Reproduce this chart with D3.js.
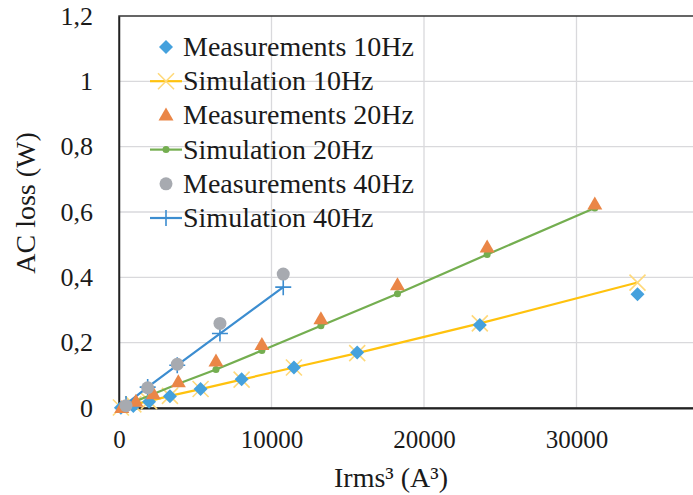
<!DOCTYPE html>
<html>
<head>
<meta charset="utf-8">
<script src="https://cdn.jsdelivr.net/npm/d3@7"></script>
<style>
  body { margin: 0; background: #fff; }
  svg text { font-family: "Liberation Serif", "DejaVu Serif", "Times New Roman", Times, serif; fill: #1a1a1a; }
</style>
</head>
<body>
<svg id="chart" width="693" height="495" font-family="Liberation Serif, DejaVu Serif, serif"></svg>
<script>
// values
var meas10X = [125, 940, 1970, 3340, 5350, 8040, 11470, 15620, 23660, 34000];
var meas10Y = [0.001, 0.006, 0.019, 0.036, 0.058, 0.088, 0.124, 0.170, 0.254, 0.348];
var sim10Y  = [0.0015, 0.011, 0.021, 0.037, 0.058, 0.087, 0.124, 0.168, 0.259, 0.384];

var meas20X = [180, 1110, 2250, 3890, 6360, 9370, 13240, 18260, 24140, 31200];
var meas20Y = [0.0, 0.019, 0.042, 0.079, 0.142, 0.193, 0.272, 0.376, 0.491, 0.623];
var sim20Y  = [0.003, 0.021, 0.043, 0.074, 0.118, 0.176, 0.252, 0.350, 0.470, 0.612];

var meas40X = [460, 1880, 3820, 6620, 10770];
var meas40Y = [0.007, 0.062, 0.134, 0.259, 0.410];
var sim40Y  = [0.012, 0.064, 0.131, 0.228, 0.370];

var xTicks = [0, 10000, 20000, 30000];
var xGrid = [10000, 20000, 30000, 40000];
var yTicks = [0, 0.2, 0.4, 0.6, 0.8, 1, 1.2];

var legendNames = ["Measurements 10Hz", "Simulation 10Hz", "Measurements 20Hz",
                   "Simulation 20Hz", "Measurements 40Hz", "Simulation 40Hz"];

var svg = d3.select("#chart"),
    margin = {top: 16, left: 119},
    width = 610,
    height = 392,
    g = svg.append("g").attr("transform", "translate(" + margin.left + "," + margin.top + ")");

var x = d3.scaleLinear().domain([0, 40000]).range([0, width]);
var y = d3.scaleLinear().domain([0, 1.2]).range([height, 0]);

function pts(xs, ys) {
  return xs.map(function(v, i) { return [v, ys[i]]; });
}

var series = [
  {name: legendNames[0], kind: "meas", shape: "diamond",  color: "#45a1dd", data: pts(meas10X, meas10Y)},
  {name: legendNames[1], kind: "sim",  shape: "cross",    color: "#ffc20e", mark: "#ffd97a", data: pts(meas10X, sim10Y)},
  {name: legendNames[2], kind: "meas", shape: "triangle", color: "#ea8647", data: pts(meas20X, meas20Y)},
  {name: legendNames[3], kind: "sim",  shape: "dot",      color: "#74ae50", mark: "#74ae50", data: pts(meas20X, sim20Y)},
  {name: legendNames[4], kind: "meas", shape: "circle",   color: "#a7aab0", data: pts(meas40X, meas40Y)},
  {name: legendNames[5], kind: "sim",  shape: "plus",     color: "#3c8dd0", mark: "#3c8dd0", data: pts(meas40X, sim40Y)}
];

// gridlines
g.append("g")
  .selectAll("line")
  .data(yTicks.filter(function(d) { return d > 0 && d < 1.2; }))
  .enter().append("line")
    .attr("x1", 0).attr("x2", width)
    .attr("y1", function(d) { return y(d); })
    .attr("y2", function(d) { return y(d); })
    .attr("stroke", "#d9d9dc").attr("stroke-width", 1.3);

g.append("g")
  .selectAll("line")
  .data(xGrid)
  .enter().append("line")
    .attr("y1", 0).attr("y2", height)
    .attr("x1", function(d) { return x(d); })
    .attr("x2", function(d) { return x(d); })
    .attr("stroke", "#d9d9dc").attr("stroke-width", 1.3);

// frame
g.append("rect")
  .attr("x", 0).attr("y", 0)
  .attr("width", width).attr("height", height)
  .attr("fill", "none")
  .attr("stroke", "#333").attr("stroke-width", 1.5);

// axes
var xAxis = g.append("g")
  .attr("transform", "translate(0," + height + ")")
  .call(d3.axisBottom(x).tickValues(xTicks).tickSize(0).tickPadding(22).tickFormat(d3.format("d")));
xAxis.attr("font-family", null);
xAxis.select(".domain").attr("stroke", "#222").attr("stroke-width", 2);
xAxis.selectAll("text").attr("font-size", 25).attr("fill", null);

var yAxis = g.append("g")
  .call(d3.axisLeft(y).tickValues(yTicks).tickSize(0).tickPadding(26)
    .tickFormat(function(d) { return d === 0 || d === 1 ? String(d) : d.toFixed(1).replace(".", ","); }));
yAxis.attr("font-family", null);
yAxis.select(".domain").attr("stroke", "#222").attr("stroke-width", 1.5);
yAxis.selectAll("text").attr("font-size", 26).attr("fill", null);

// axis titles
svg.append("text")
  .attr("transform", "translate(35,203) rotate(-90)")
  .attr("text-anchor", "middle")
  .attr("font-size", 28)
  .text("AC loss (W)");

svg.append("text")
  .attr("x", 391).attr("y", 487)
  .attr("text-anchor", "middle")
  .attr("font-size", 28)
  .text("Irms³ (A³)");

// marker drawing
function drawMark(sel, s, cx, cy) {
  var c = s.mark || s.color;
  if (s.shape === "diamond") {
    sel.append("path")
      .attr("d", "M0,-7L7,0L0,7L-7,0Z")
      .attr("transform", "translate(" + cx + "," + cy + ")")
      .attr("fill", c);
  } else if (s.shape === "triangle") {
    sel.append("path")
      .attr("d", "M0,-8L7.5,5L-7.5,5Z")
      .attr("transform", "translate(" + cx + "," + cy + ")")
      .attr("fill", c);
  } else if (s.shape === "circle") {
    sel.append("circle").attr("cx", cx).attr("cy", cy).attr("r", 6.5).attr("fill", c);
  } else if (s.shape === "dot") {
    sel.append("circle").attr("cx", cx).attr("cy", cy).attr("r", 3.5).attr("fill", c);
  } else if (s.shape === "cross") {
    sel.append("path")
      .attr("d", "M-8,-8L8,8M-8,8L8,-8")
      .attr("transform", "translate(" + cx + "," + cy + ")")
      .attr("stroke", c).attr("stroke-width", 1.6).attr("fill", "none");
  } else if (s.shape === "plus") {
    sel.append("path")
      .attr("d", "M-8,0L8,0M0,-8L0,8")
      .attr("transform", "translate(" + cx + "," + cy + ")")
      .attr("stroke", c).attr("stroke-width", 1.6).attr("fill", "none");
  }
}

var line = d3.line()
  .x(function(d) { return x(d[0]); })
  .y(function(d) { return y(d[1]); });

var marks = g.append("g");

// simulation lines and their markers first, measurements on top
series.filter(function(s) { return s.kind === "sim"; }).forEach(function(s) {
  marks.append("path")
    .datum(s.data)
    .attr("d", line)
    .attr("fill", "none")
    .attr("stroke", s.color)
    .attr("stroke-width", 2.2);
  s.data.forEach(function(d) { drawMark(marks, s, x(d[0]), y(d[1])); });
});

series.filter(function(s) { return s.kind === "meas"; }).forEach(function(s) {
  s.data.forEach(function(d) { drawMark(marks, s, x(d[0]), y(d[1])); });
});

// legend
var legend = svg.append("g");
series.forEach(function(s, i) {
  var by = 56 + i * 34.2,
      cy = by - 9;
  if (s.kind === "sim") {
    legend.append("line")
      .attr("x1", 150).attr("x2", 182)
      .attr("y1", cy).attr("y2", cy)
      .attr("stroke", s.color).attr("stroke-width", 2.2);
  }
  drawMark(legend, s, 166, cy);
  legend.append("text")
    .attr("x", 183).attr("y", by)
    .attr("font-size", 28)
    .text(s.name);
});
</script>
</body>
</html>
